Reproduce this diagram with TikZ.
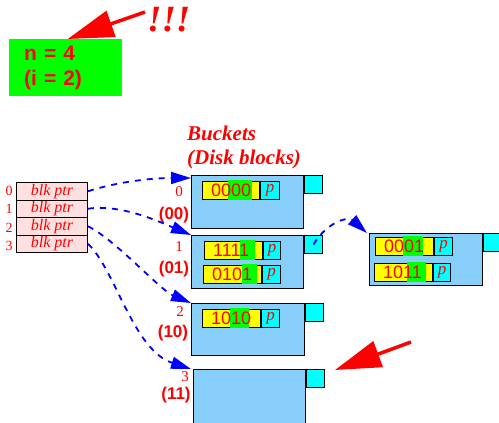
\documentclass[tikz,border=0pt]{standalone}
\usepackage{fontspec}
\setmainfont{Liberation Serif}
\setsansfont{Liberation Sans}
\usetikzlibrary{arrows.meta}

\begin{document}
\begin{tikzpicture}[x=1pt, y=-1pt,
        bucket/.style={draw, fill=bktcolor, line width=1pt, anchor=north west, inner sep=0pt},
        tag/.style={draw, fill=tagcolor, line width=1pt, anchor=north west, inner sep=0pt, minimum width=18pt, minimum height=18pt},
        keycell/.style={draw, fill=keycolor, line width=1pt, anchor=north west, inner sep=0pt, minimum height=18pt},
        ptrcell/.style={draw, fill=tagcolor, line width=1pt, anchor=north west, inner sep=0pt, minimum height=18pt, text=txtred, font=\itshape\fontsize{17}{17}\selectfont},
        hashcell/.style={fill=hashcolor, anchor=north west, inner sep=0pt, minimum height=20pt},
        bitstyle/.style={anchor=west, inner sep=0pt, text=txtred, font=\sffamily\fontsize{18}{18}\selectfont},
        dirrow/.style={draw, fill=dircolor, line width=1pt, anchor=north west, inner sep=0pt, minimum width=71pt, minimum height=17.5pt, text=txtred, font=\itshape\fontsize{16}{16}\selectfont},
        dirnum/.style={inner sep=0pt, text=txtred, font=\fontsize{14}{14}\selectfont},
        bktnum/.style={inner sep=0pt, text=txtred, font=\fontsize{15}{15}\selectfont},
        bktcode/.style={inner sep=0pt, text=txtred, font=\sffamily\bfseries\fontsize{17}{17}\selectfont},
        title/.style={anchor=base west, inner sep=0pt, text=txtred, font=\bfseries\itshape\fontsize{21}{21}\selectfont},
        ptr/.style={draw=ptrblue, line width=1.8pt, dash pattern=on 6pt off 6pt, -{Triangle[length=20pt,width=12pt]}},
        alert/.style={draw=txtred, line width=3.5pt, -{Triangle[length=46pt,width=27pt]}}]
    \definecolor{txtred}{RGB}{255, 0, 0}
    \definecolor{ptrblue}{RGB}{0, 0, 255}
    \definecolor{bktcolor}{RGB}{135, 206, 250}
    \definecolor{tagcolor}{RGB}{0, 255, 255}
    \definecolor{keycolor}{RGB}{255, 255, 0}
    \definecolor{hashcolor}{RGB}{0, 255, 0}
    \definecolor{dircolor}{RGB}{255, 224, 224}

    \useasboundingbox (0,0) rectangle (499,423);

    \node[fill=hashcolor, anchor=north west, minimum width=113pt, minimum height=57pt, inner xsep=15pt, text width=83pt, align=left, text=txtred, font=\sffamily\bfseries\fontsize{21}{25}\selectfont] (info) at (9,39) {n = 4\\(i = 2)};
    \node[anchor=base west, inner sep=0pt, text=txtred, font=\bfseries\itshape\fontsize{37}{37}\selectfont] (bang) at (147,31) {!!!};
    \coordinate (w0) at (145,12);
    \draw[alert] (w0) -- ([xshift=2pt]info.north);

    \node[title] (ttl) at (187,140) {Buckets};
    \node[title] (ttl2) at (187,164) {(Disk blocks)};

    \foreach \i in {0,...,3} {
            \node[dirrow] (d\i) at (16, {182+17.5*\i}) {blk ptr};
            \node[dirnum] (n\i) at (9, {191+18.3*\i}) {\i};
        }

    \foreach \nm/\bx/\by/\bw/\bh in {0/191/175/112/53, 1/191/235/112/53, 2/191/303/113/52, 3/193/369/112/60, x/369/233/113/52} {
            \node[bucket, minimum width=\bw pt, minimum height=\bh pt] (b\nm) at (\bx,\by) {};
            \node[tag] (t\nm) at (b\nm.north east) {};
        }

    \foreach \nm/\lx/\ly/\cx/\cy/\code in {0/179/192/174/215/00, 1/179/247/174/269/01, 2/180/312/173/333/10, 3/185/377/176/395/11} {
            \node[bktnum] (l\nm) at (\lx,\ly) {\nm};
            \node[bktcode] (c\nm) at (\cx,\cy) {(\code)};
        }

    \foreach \nm/\rx/\ry/\kw/\pw/\gx/\gw/\bitstr in {a/202/181/57/19/26/24/0000, b/204/241/58/17/36/15/1111, c/203/265/58/18/39/15/0101, d/202/309/58/18/28/19/1010, e/375/237/58/18/28/20/0001, f/374/263/58/17/33/19/1011} {
            \node[keycell, minimum width=\kw pt] (k\nm) at (\rx,\ry) {};
            \node[ptrcell, minimum width=\pw pt] (p\nm) at (k\nm.north east) {p};
            \node[hashcell, minimum width=\gw pt] (g\nm) at ([xshift=\gx pt, yshift=1pt]k\nm.north west) {};
            \node[bitstyle] (v\nm) at ([xshift=9pt]k\nm.west) {\bitstr};
        }

    \draw[ptr] (d0.east) .. controls +(28,-9) and +(-41,0) .. ([yshift=-3pt]b0.north west);
    \draw[ptr] (d1.east) .. controls +(33,-5) and +(-31,-13) .. (b1.north west);
    \draw[ptr] (d2.east) .. controls +(28,14) and +(-31,-13) .. (b2.north west);
    \draw[ptr] (d3.east) .. controls +(28,27) and +(-58,-19) .. ([xshift=-2pt]b3.north west);
    \draw[ptr] (t1.center) .. controls +(13,-22) and +(-19,-17) .. ([xshift=-2pt]bx.north west);

    \coordinate (w1) at (411,342);
    \coordinate (w2) at (335,370);
    \draw[alert] (w1) -- (w2);
\end{tikzpicture}
\end{document}
